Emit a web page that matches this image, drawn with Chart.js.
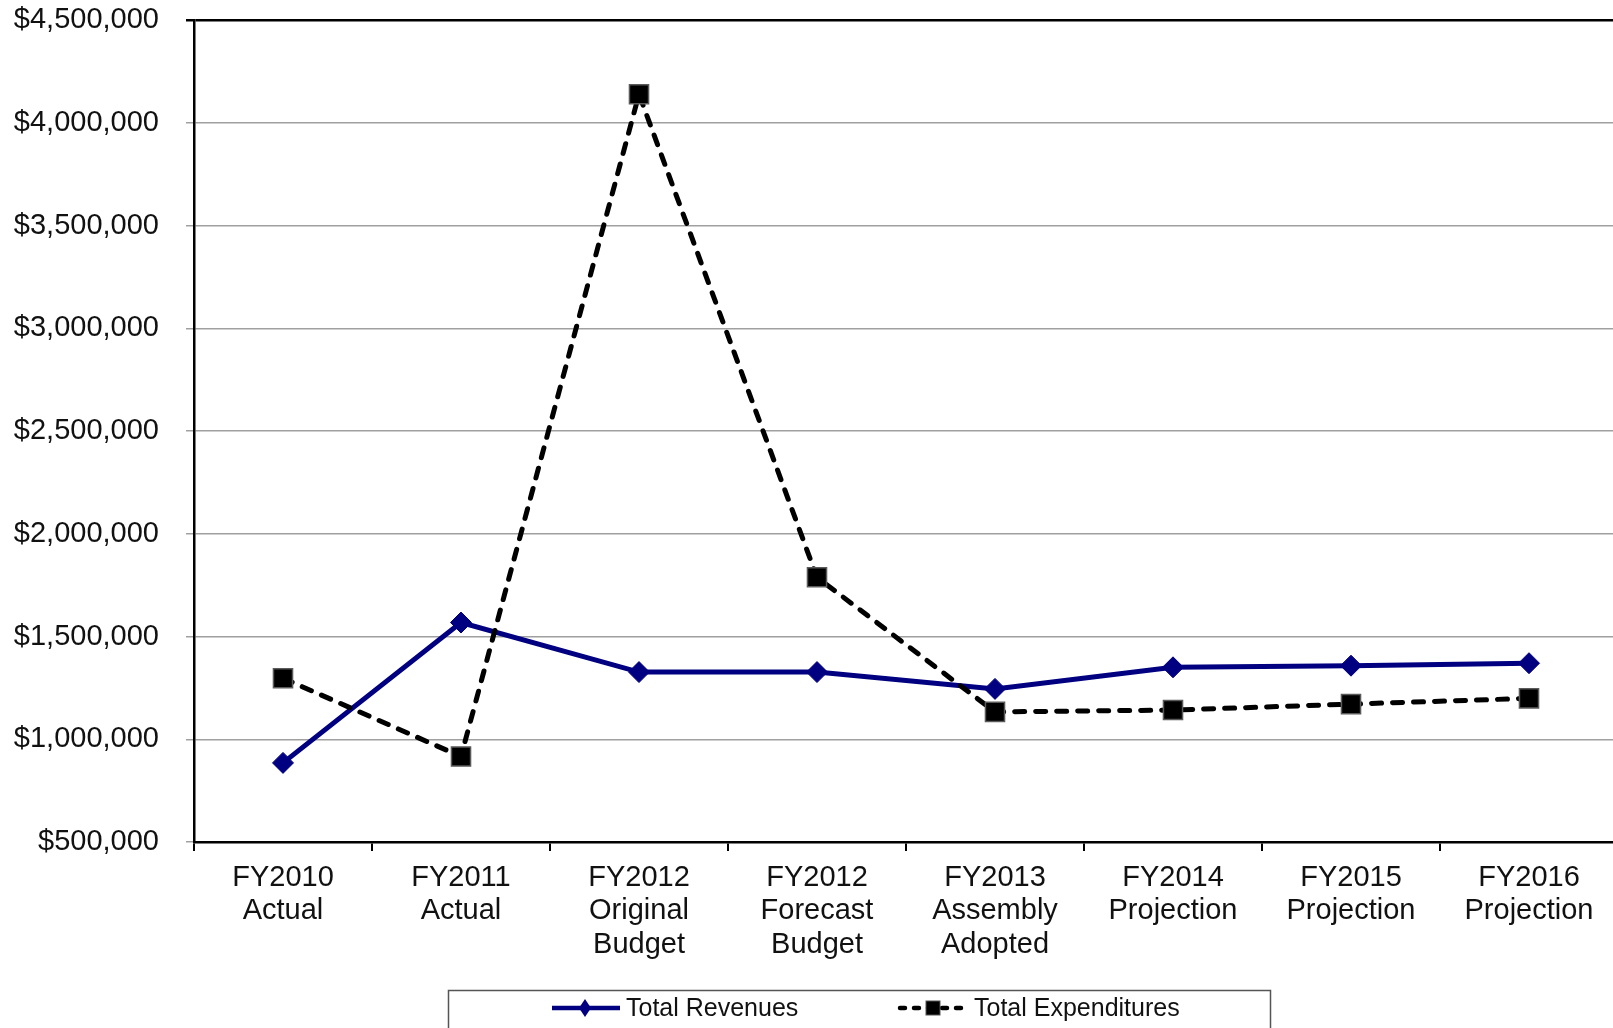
<!DOCTYPE html>
<html>
<head>
<meta charset="utf-8">
<title>Revenues vs Expenditures</title>
<script src="https://cdn.jsdelivr.net/npm/chart.js@4.4.0/dist/chart.umd.min.js"></script>
<style>
    html, body { margin: 0; padding: 0; background: #ffffff; overflow: hidden; }
    #wrap { width: 1620px; height: 1028px; }
</style>
</head>
<body>
<div id="wrap"><canvas id="fundChart" width="1620" height="1028"></canvas></div>
<script>
// Categories (multi-line labels)
const categories = [
    ['FY2010', 'Actual'],
    ['FY2011', 'Actual'],
    ['FY2012', 'Original', 'Budget'],
    ['FY2012', 'Forecast', 'Budget'],
    ['FY2013', 'Assembly', 'Adopted'],
    ['FY2014', 'Projection'],
    ['FY2015', 'Projection'],
    ['FY2016', 'Projection']
];

// Series values
const totalRevenues = [885000, 1568000, 1327000, 1327000, 1245000, 1350000, 1358000, 1370000];
const totalExpenditures = [1297000, 916000, 4139000, 1788000, 1133000, 1142000, 1171000, 1199000];

// Y axis range
const yMin = 500000;
const yMax = 4500000;
const yStep = 500000;

const seriesNames = ['Total Revenues', 'Total Expenditures'];

const FONT = "'Liberation Sans', Arial, sans-serif";

// Legend in a box, with line + marker samples
const boxedLegend = {
    id: 'boxedLegend',
    afterDraw(chart) {
        const ctx = chart.ctx;
        ctx.save();
        ctx.strokeStyle = '#555555';
        ctx.lineWidth = 1.5;
        ctx.strokeRect(448.5, 990.5, 822, 42);

        const y = 1008;
        const starts = [550, 898];
        chart.data.datasets.forEach((ds, i) => {
            const x0 = starts[i];
            const mid = x0 + 35;
            ctx.strokeStyle = ds.borderColor;
            ctx.lineWidth = 4.5;
            ctx.lineCap = i === 1 ? 'round' : 'butt';
            ctx.setLineDash(i === 1 ? [5, 9] : []);
            ctx.beginPath();
            ctx.moveTo(x0 + 2, y);
            ctx.lineTo(x0 + 70, y);
            ctx.stroke();
            ctx.setLineDash([]);

            ctx.fillStyle = ds.pointBackgroundColor;
            if (ds.pointStyle === 'rectRot') {
                ctx.beginPath();
                ctx.moveTo(mid, y - 9);
                ctx.lineTo(mid + 6, y);
                ctx.lineTo(mid, y + 9);
                ctx.lineTo(mid - 6, y);
                ctx.closePath();
                ctx.fill();
            } else {
                ctx.fillRect(mid - 7, y - 7, 14, 14);
                ctx.strokeStyle = '#555555';
                ctx.lineWidth = 1;
                ctx.strokeRect(mid - 7, y - 7, 14, 14);
            }

            ctx.fillStyle = '#111111';
            ctx.font = '25px ' + FONT;
            ctx.textAlign = 'left';
            ctx.textBaseline = 'middle';
            ctx.fillText(ds.label, x0 + 76, y + 1);
        });
        ctx.restore();
    }
};

const ctx = document.getElementById('fundChart').getContext('2d');

new Chart(ctx, {
    type: 'line',
    data: {
        labels: categories,
        datasets: [{
            label: seriesNames[0],
            data: totalRevenues,
            borderColor: '#000080',
            backgroundColor: '#000080',
            borderWidth: 5,
            pointStyle: 'rectRot',
            pointRadius: 10.5,
            pointBackgroundColor: '#000080',
            pointBorderColor: '#000080',
            pointBorderWidth: 1,
            tension: 0,
            fill: false,
            order: 1
        }, {
            label: seriesNames[1],
            data: totalExpenditures,
            borderColor: '#000000',
            backgroundColor: '#000000',
            borderWidth: 5,
            borderDash: [10, 11],
            borderCapStyle: 'round',
            pointStyle: 'rect',
            pointRadius: 13.5,
            pointBackgroundColor: '#000000',
            pointBorderColor: '#5a5a5a',
            pointBorderWidth: 1.5,
            tension: 0,
            fill: false,
            order: 0
        }]
    },
    options: {
        responsive: false,
        animation: false,
        devicePixelRatio: 1,
        layout: {
            autoPadding: false,
            padding: { left: 0, right: 2, top: 20, bottom: 56 }
        },
        scales: {
            x: {
                offset: true,
                grid: {
                    offset: true,
                    drawOnChartArea: false,
                    drawTicks: true,
                    tickLength: 9,
                    color: '#000000',
                    lineWidth: 2
                },
                border: { color: '#000000', width: 2.5 },
                ticks: {
                    color: '#111111',
                    font: { family: FONT, size: 29, lineHeight: 1.16 },
                    padding: 10,
                    maxRotation: 0,
                    autoSkip: false
                },
                afterFit(scale) {
                    scale.height = 130;
                    scale.paddingLeft = 0;
                    scale.paddingRight = 0;
                }
            },
            y: {
                min: yMin,
                max: yMax,
                grid: {
                    color: (c) => (c.tick && c.tick.value === yMax) ? '#000000' : '#a0a0a0',
                    lineWidth: (c) => (c.tick && c.tick.value === yMax) ? 2.5 : 1.5,
                    tickLength: 8
                },
                border: { color: '#000000', width: 2.5 },
                ticks: {
                    stepSize: yStep,
                    color: '#111111',
                    font: { family: FONT, size: 29 },
                    padding: 27,
                    callback: function(value) {
                        return '$' + value.toLocaleString('en-US');
                    }
                },
                afterFit(scale) {
                    scale.width = 194;
                    scale.paddingTop = 0;
                    scale.paddingBottom = 0;
                }
            }
        },
        plugins: {
            legend: { display: false },
            tooltip: { enabled: false }
        }
    },
    plugins: [boxedLegend]
});
</script>
</body>
</html>
